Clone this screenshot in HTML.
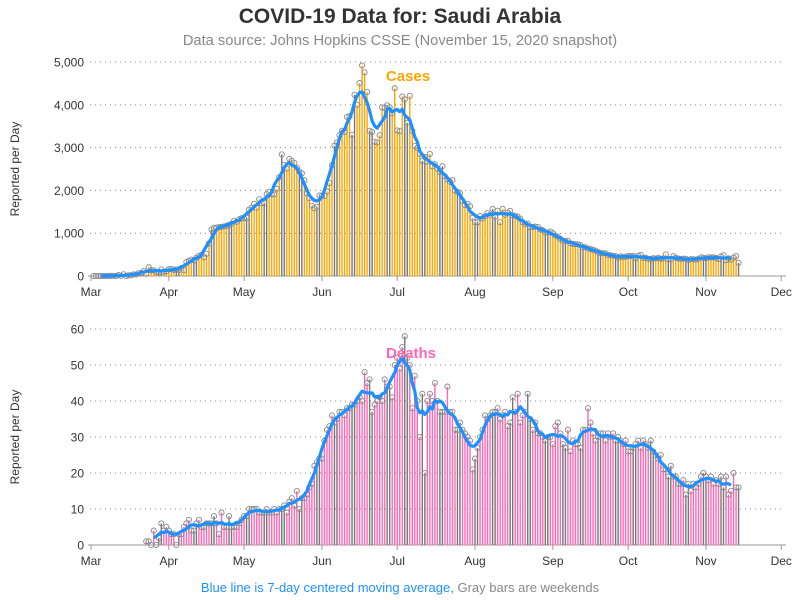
<!DOCTYPE html>
<html><head><meta charset="utf-8"><style>
body{margin:0;background:#fff;}
svg{display:block;font-family:"Liberation Sans",Arial,sans-serif;}
</style></head><body>
<svg id="chart" width="800" height="600" viewBox="0 0 800 600">
<text x="400" y="23" text-anchor="middle" font-size="21" font-weight="bold" fill="#333">COVID-19 Data for: Saudi Arabia</text>
<text x="400" y="45" text-anchor="middle" font-size="14.7" fill="#888">Data source: Johns Hopkins CSSE (November 15, 2020 snapshot)</text>
<text x="400" y="592" text-anchor="middle" font-size="13"><tspan fill="#1e90ff">Blue line is 7-day centered moving average,</tspan><tspan fill="#888"> Gray bars are weekends</tspan></text>
</svg>
<script>
const monthLabels=["Mar","Apr","May","Jun","Jul","Aug","Sep","Oct","Nov","Dec"];
const monthStartDays=[0,31,61,92,122,153,184,214,245,275];
const casesStartDay=1;
const casesValues=[1,0,0,2,0,2,2, 4,5,1,24,0,41,0, 15,15,38,36,64,70,119, 51,205,133,133,92,99,154,
96,110,157,165,140,154,138, 190,137,327,355,382,364,429, 472,493,435,518,762,1088,1122, 1132,1141,1147,1158,1172,1197,1223,
1289,1266,1325,1351,1344,1362,1552, 1595,1687,1595,1793,1701,1704,1912, 1966,1911,1905,2039,2307,2840,2593,
2509,2736,2691,2642,2532,2442,2399, 2235,1931,1815,1644,1581,1618,1881, 1877,1869,1975,2171,2591,3045,3121,
3288,3393,3366,3717,3733,3300,4233, 4000,4507,4919,4757,4301,3393,3366, 3139,3121,3288,3938,3927,3989,3943,
3802,4387,3402,3383,4193,4128,3580, 4207,3392,3036,2994,2852,2692,2779, 2671,2852,2565,2613,2504,2429,2565,
2331,2255,2201,2238,2000,1968,1938, 1759,1658,1686,1629,1357,1258,1258, 1402,1342,1398,1469,1428,1567,1389,
1523,1257,1569,1428,1482,1521,1416, 1409,1383,1342,1258,1212,1226,1141, 1147,1154,1148,1087,1069,1019,1016,
1040,1000,944,919,867,821,819, 822,764,749,740,741,723,676, 670,640,628,612,593,561,532, 533,529,489,483,472,467,428,
461,440,450,468,464,472,416, 472,491,419,427,399,401,415, 409,424,402,411,505,388,398, 463,427,409,399,406,401,375,
394,391,381,400,438,425,415, 437,434,434,422,399,456,484, 370,412,380,432,467,310];
const deathsStartDay=22;
const deathsValues=[1,1,0,4,0,2,6, 4,5,4,3,3,0,3, 3,5,6,7,4,4,6, 7,5,5,6,6,6,8, 6,3,9,5,5,8,5, 5,5,6,7,8,8,10,
10,10,10,9,9,9,10, 9,9,10,9,10,10,11, 9,12,13,11,15,10,13, 13,14,16,17,22,23,24, 24,29,32,33,36,34,35,
37,37,36,38,38,39,39, 40,41,40,48,45,46,37, 39,40,41,40,46,44,44, 41,50,52,49,55,58,52, 50,38,47,40,30,42,20,
40,42,40,45,40,37,37, 37,44,37,37,32,32,34, 32,31,30,29,21,24,27, 30,32,36,35,36,37,37, 38,35,36,37,33,34,41,
37,42,34,36,37,42,35, 32,34,31,31,30,29,30, 30,28,33,34,31,28,27, 32,26,29,28,28,27,32, 32,38,34,31,29,30,31,
31,29,31,30,31,29,30, 29,28,29,26,26,27,28, 29,27,29,28,27,29,26, 25,24,25,21,21,19,22, 19,19,17,17,18,14,17,
15,17,16,17,19,20,19, 18,19,17,18,17,19,16, 19,14,15,20,16,16];
const casesTicks=[0,1000,2000,3000,4000,5000];
const casesTickLabels=["0","1,000","2,000","3,000","4,000","5,000"];
const deathsTicks=[0,10,20,30,40,50,60];
const deathsTickLabels=["0","10","20","30","40","50","60"];

const NS="http://www.w3.org/2000/svg";
const svg=document.getElementById('chart');
function mk(tag,attrs,parent){const e=document.createElementNS(NS,tag);for(const k in attrs)e.setAttribute(k,attrs[k]);(parent||svg).appendChild(e);return e;}
const xScale=d=>91+d*2.51;

function panel(opts){
  const g=mk('g',{});
  
  
  const y=v=>opts.y0-(v/opts.ymax)*(opts.y0-opts.ytop);
  opts.ticks.forEach((t,i)=>{
    if(t>0){const gl=mk('line',{x1:90,x2:785,y1:y(t),y2:y(t),stroke:'#888','stroke-width':1,'stroke-dasharray':'1,4'},g);
      
      }
    const tl=mk('text',{x:84,y:y(t)+4.5,'text-anchor':'end','font-size':12,fill:'#333'},g);
    tl.textContent=opts.tickLabels[i];
    
    
  });
  const base=mk('line',{x1:88,x2:786,y1:opts.y0,y2:opts.y0,stroke:'#999','stroke-width':1},g);
  
  
  monthLabels.forEach((m,i)=>{
    const x=xScale(monthStartDays[i]);
    mk('line',{x1:x,x2:x,y1:opts.y0,y2:opts.y0+5,stroke:'#999'},g);
    const t=mk('text',{x:x,y:opts.y0+20,'text-anchor':'middle','font-size':12,fill:'#333'},g);
    t.textContent=m;
    
    
  });
  const yl=mk('text',{x:0,y:0,transform:`translate(19,${(opts.y0+opts.ytop)/2}) rotate(-90)`,'text-anchor':'middle','font-size':12,fill:'#333'},g);
  yl.textContent='Reported per Day';
  
  
  const vals=opts.values;
  vals.forEach((v,i)=>{
    const d=opts.start+i;const x=xScale(d);
    const wk=(d%7===0||d%7===6);
    const b=mk('line',{x1:x,x2:x,y1:opts.y0,y2:y(v),stroke:wk?'#777':opts.color,'stroke-width':1.4},g);
    
    
  });
  vals.forEach((v,i)=>{
    const x=xScale(opts.start+i);
    const c=mk('circle',{cx:x,cy:y(v),r:2.6,fill:'none',stroke:'#888','stroke-width':0.9},g);
    
    
  });
  let pts=[];
  for(let i=3;i<vals.length-3;i++){let s=0;for(let k=-3;k<=3;k++)s+=vals[i+k];pts.push(xScale(opts.start+i).toFixed(1)+','+y(s/7).toFixed(1));}
  const ln=mk('polyline',{points:pts.join(' '),fill:'none',stroke:'#1e90ff','stroke-width':3.2,'stroke-linejoin':'round'},g);
  
  
  const lab=mk('text',{x:opts.labelX,y:opts.labelY,'text-anchor':'middle','font-size':15,'font-weight':'bold',fill:opts.color},g);
  lab.textContent=opts.label;
  
  
}
panel({name:'cases',values:casesValues,start:casesStartDay,y0:276,ytop:62,ymax:5000,ticks:casesTicks,tickLabels:casesTickLabels,color:'#ffa500',label:'Cases',labelX:408,labelY:81});
panel({name:'deaths',values:deathsValues,start:deathsStartDay,y0:545,ytop:329,ymax:60,ticks:deathsTicks,tickLabels:deathsTickLabels,color:'#ff69b4',label:'Deaths',labelX:411,labelY:358});
</script>
</body></html>
